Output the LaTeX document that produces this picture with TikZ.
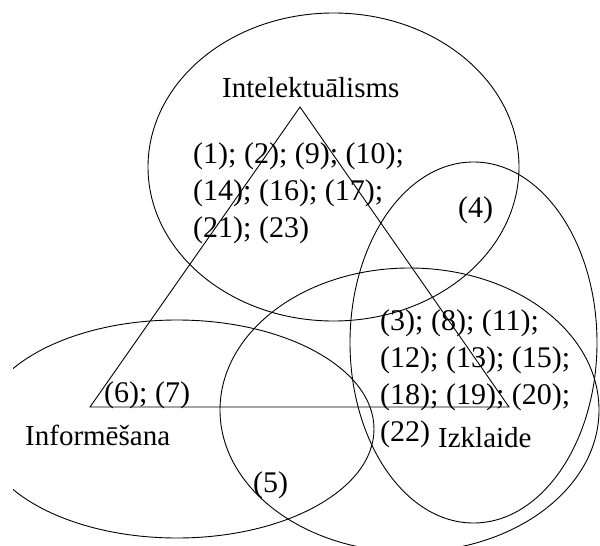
\documentclass[tikz,border=0pt]{standalone}
\usepackage{fontspec}
\setmainfont{Liberation Serif}
\begin{document}
\begin{tikzpicture}[x=1pt,y=-1pt,
  ring/.style={draw=black,line width=0.9pt},
  tri/.style={draw=black,line width=0.9pt},
  lab/.style={anchor=base west,inner sep=0pt,font=\fontsize{29}{35}\selectfont},
  num/.style={anchor=base west,inner sep=0pt,font=\fontsize{30}{37}\selectfont}]
\useasboundingbox[fill=white] (0,0) rectangle (600,546);
\begin{scope}
\clip (13,0) rectangle (600,546);
\draw[ring] (333.5,167) ellipse [x radius=185.5, y radius=154];
\draw[ring] (473.5,342.5) ellipse [x radius=123.5, y radius=180.5];
\draw[ring] (409.5,410) ellipse [x radius=189.5, y radius=142];
\draw[ring] (177,429) ellipse [x radius=197, y radius=109];
\end{scope}
\coordinate (apex) at (300,107);
\coordinate (bl) at (90,407);
\coordinate (br) at (509,407);
\draw[tri] (apex) -- (bl) -- (br) -- cycle;
\node[lab] (intel) at (222,97) {Intelektuālisms};
\node[num] (l1) at (193,163) {(1); (2); (9); (10);};
\node[num] (l2) at (193,200) {(14); (16); (17);};
\node[num] (l3) at (193,237) {(21); (23)};
\node[num] (four) at (458,217) {(4)};
\node[num] (r1) at (380,330) {(3); (8); (11);};
\node[num] (r2) at (380,367) {(12); (13); (15);};
\node[num] (r3) at (380,404) {(18); (19); (20);};
\node[num] (r4) at (380,441) {(22)};
\node[lab] (izk) at (438,447) {Izklaide};
\node[num] (sixseven) at (104,402) {(6); (7)};
\node[lab] (info) at (25,445) {Informēšana};
\node[num] (five) at (253,492) {(5)};
\end{tikzpicture}
\end{document}
